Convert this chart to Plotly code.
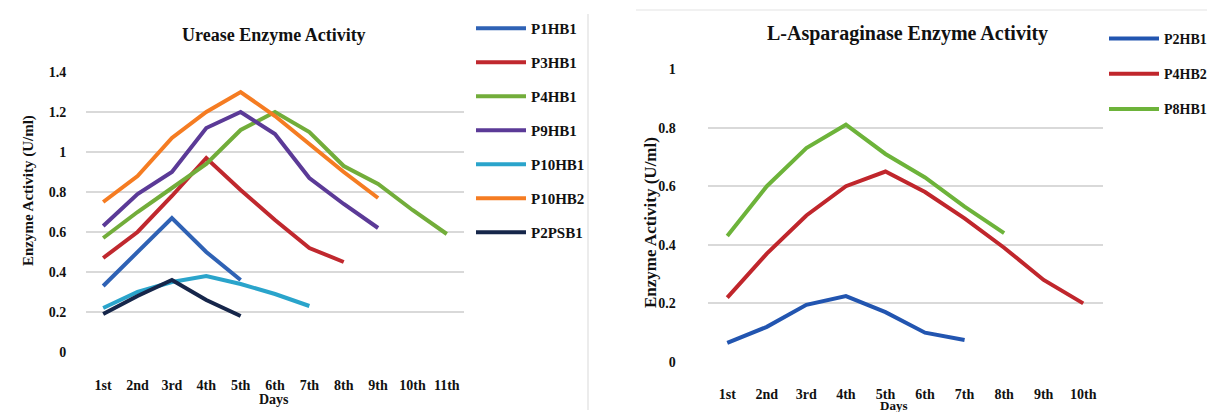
import plotly.graph_objects as go

# ---------------- data ----------------
days_urease = ["1st", "2nd", "3rd", "4th", "5th", "6th", "7th", "8th", "9th", "10th", "11th"]
p1hb1 = [0.33, 0.50, 0.67, 0.50, 0.36]
p3hb1 = [0.47, 0.60, 0.78, 0.97, 0.81, 0.66, 0.52, 0.45]
p4hb1 = [0.57, 0.70, 0.82, 0.94, 1.11, 1.20, 1.10, 0.93, 0.84, 0.71, 0.59]
p9hb1 = [0.63, 0.79, 0.90, 1.12, 1.20, 1.09, 0.87, 0.74, 0.62]
p10hb1 = [0.22, 0.30, 0.35, 0.38, 0.34, 0.29, 0.23]
p10hb2 = [0.75, 0.88, 1.07, 1.20, 1.30, 1.18, 1.04, 0.90, 0.77]
p2psb1 = [0.19, 0.28, 0.36, 0.26, 0.18]

days_asp = ["1st", "2nd", "3rd", "4th", "5th", "6th", "7th", "8th", "9th", "10th"]
p2hb1 = [0.065, 0.12, 0.195, 0.225, 0.17, 0.10, 0.075]
p4hb2 = [0.22, 0.37, 0.50, 0.60, 0.65, 0.58, 0.49, 0.39, 0.28, 0.20]
p8hb1 = [0.43, 0.60, 0.73, 0.81, 0.71, 0.63, 0.53, 0.44]

urease_series = [
    ("P1HB1", p1hb1, "#2F62B5"),
    ("P3HB1", p3hb1, "#C0282E"),
    ("P4HB1", p4hb1, "#72AD3A"),
    ("P9HB1", p9hb1, "#5B3A97"),
    ("P10HB1", p10hb1, "#2AA4CB"),
    ("P10HB2", p10hb2, "#F57C22"),
    ("P2PSB1", p2psb1, "#16264A"),
]
asp_series = [
    ("P2HB1", p2hb1, "#2255B0"),
    ("P4HB2", p4hb2, "#C0262C"),
    ("P8HB1", p8hb1, "#6DB33A"),
]

FONT = "Liberation Serif"
OFF = 8                      # page body margin of the html page
W, H = 1215 - OFF, 412 - OFF

fig = go.Figure()

for name, vals, col in urease_series:
    fig.add_trace(go.Scatter(
        x=days_urease[:len(vals)], y=vals, name=name, mode="lines",
        line=dict(color=col, width=4), xaxis="x", yaxis="y",
        legend="legend", legendgroup=name,
    ))
for name, vals, col in asp_series:
    fig.add_trace(go.Scatter(
        x=days_asp[:len(vals)], y=vals, name=name, mode="lines",
        line=dict(color=col, width=4), xaxis="x2", yaxis="y2",
        legend="legend2", legendgroup=name,
    ))

def px(v):
    return (v - OFF) / W

def py(v):
    return 1 - (v - OFF) / H

tickfont = dict(family=FONT, size=14, color="#111111", weight="bold")
legfont = dict(family=FONT, size=15, color="#111111", weight="bold")
legfont2 = dict(family=FONT, size=14, color="#111111", weight="bold")
CLEAR = "rgba(0,0,0,0)"

def text_ann(text, x, y, size, angle=0):
    return dict(text="<b>%s</b>" % text, x=px(x), y=py(y), xref="paper", yref="paper",
                xanchor="center", yanchor="middle", showarrow=False, textangle=angle,
                font=dict(family=FONT, size=size, color="#111111"))

fig.update_layout(
    width=W, height=H,
    margin=dict(l=0, r=0, t=0, b=0, autoexpand=False),
    paper_bgcolor="white", plot_bgcolor="white",
    font=dict(family=FONT, color="#111111"),
    xaxis=dict(
        domain=[px(86), px(464)], anchor="y", type="category",
        categoryorder="array", categoryarray=days_urease,
        range=[-0.5, len(days_urease) - 0.5], automargin=False,
        showgrid=False, zeroline=False, showline=False, ticks="",
        tickfont=tickfont, ticklabelstandoff=23,
    ),
    yaxis=dict(
        domain=[py(352), py(72)], anchor="x", range=[0, 1.4], dtick=0.2,
        automargin=False,
        showgrid=True, gridcolor="#D9D9D9", gridwidth=1.5, zeroline=False,
        showline=False, ticks="outside", ticklen=16, tickcolor=CLEAR,
        tickfont=tickfont,
    ),
    xaxis2=dict(
        domain=[px(707.5), px(1103)], anchor="y2", type="category",
        categoryorder="array", categoryarray=days_asp,
        range=[-0.5, len(days_asp) - 0.5], automargin=False,
        showgrid=False, zeroline=False, showline=False, ticks="",
        tickfont=tickfont, ticklabelstandoff=22,
    ),
    yaxis2=dict(
        domain=[py(362), py(69)], anchor="x2", range=[0, 1], dtick=0.2,
        automargin=False,
        showgrid=True, gridcolor="#D9D9D9", gridwidth=1.5, zeroline=False,
        showline=False, ticks="outside", ticklen=28, tickcolor=CLEAR,
        tickfont=tickfont,
    ),
    legend=dict(
        x=px(471), y=py(12), xanchor="left", yanchor="top",
        font=legfont, tracegroupgap=11.5, bgcolor=CLEAR,
        itemwidth=50, maxheight=390,
    ),
    legend2=dict(
        x=px(1104), y=py(23), xanchor="left", yanchor="top",
        font=legfont2, tracegroupgap=14, bgcolor=CLEAR,
        itemwidth=50, maxheight=390,
    ),
    annotations=[
        text_ann("Urease Enzyme Activity", 274, 35, 18),
        text_ann("L-Asparaginase Enzyme Activity", 907, 33, 20),
        text_ann("Enzyme Activity (U/ml)", 29, 191, 15, -90),
        text_ann("Enzyme Activity (U/ml)", 650, 223, 17, -90),
        text_ann("Days", 274, 399, 14),
        text_ann("Days", 893, 405, 13),
    ],
    shapes=[
        dict(type="line", xref="paper", yref="paper", x0=px(588), x1=px(588),
             y0=py(14), y1=py(410), line=dict(color="#E6E6E6", width=1.5)),
        dict(type="line", xref="paper", yref="paper", x0=px(636), x1=1,
             y0=py(10), y1=py(10), line=dict(color="#ECECEC", width=1.5)),
    ],
    showlegend=True,
)

fig.write_html("out.html")
